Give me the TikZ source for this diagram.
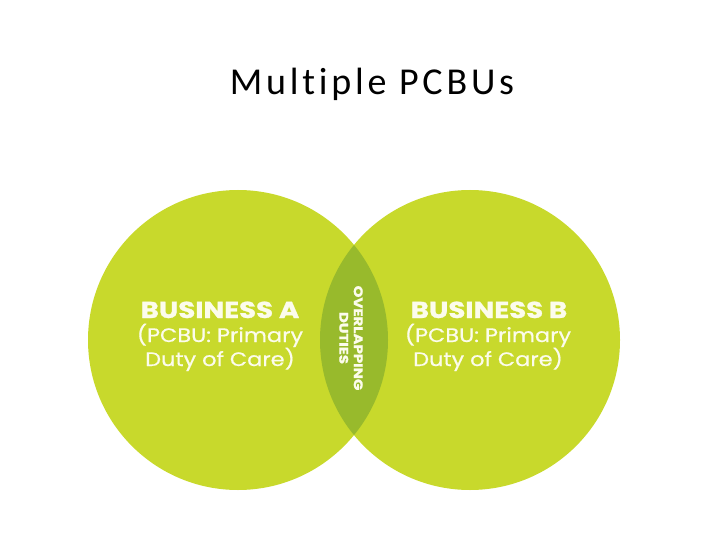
\documentclass[tikz,border=0pt]{standalone}
\usepackage{fontspec}
\setmainfont{Carlito}[LetterSpace=10,Ligatures={NoCommon}]
\newfontfamily\pophead{Poppins}[FakeStretch=1.2,BoldFeatures={FakeBold=1.2}]
\newfontfamily\popsub{Poppins}[FakeStretch=1.15,FakeBold=0.7]
\definecolor{lime}{RGB}{200,217,44}
\definecolor{limedark}{RGB}{152,186,44}
\definecolor{txt}{RGB}{252,252,236}
\begin{document}
\begin{tikzpicture}[x=1pt,y=-1pt,
  bizhead/.style={text=txt,font=\pophead\bfseries\fontsize{23}{24}\selectfont,inner sep=0pt,anchor=base},
  bizsub/.style={text=txt,font=\popsub\fontsize{19.5}{24}\selectfont,inner sep=0pt,anchor=base},
  overlap/.style={text=txt,font=\pophead\bfseries\fontsize{12.5}{14.5}\selectfont,align=center,rotate=-90,inner sep=0pt}]
\useasboundingbox (0,0) rectangle (720,540);
\node[font=\fontsize{38}{40}\selectfont,anchor=base] (title) at (372,95) {Multiple PCBUs};
\fill[lime] (238,340) circle (150);
\fill[lime] (470,340) circle (150);
\begin{scope}
  \clip (238,340) circle (150);
  \fill[limedark] (470,340) circle (150);
\end{scope}
\node[bizhead] (ha) at (220,318) {BUSINESS A};
\node[bizsub] (sa1) at (220,342) {(PCBU: Primary};
\node[bizsub] (sa2) at (220,366) {Duty of Care)};
\node[bizhead] (hb) at (489,318) {BUSINESS B};
\node[bizsub] (sb1) at (488,342) {(PCBU: Primary};
\node[bizsub] (sb2) at (488,366) {Duty of Care)};
\node[overlap] (ov) at (351,338) {OVERLAPPING\\DUTIES};
\end{tikzpicture}
\end{document}
